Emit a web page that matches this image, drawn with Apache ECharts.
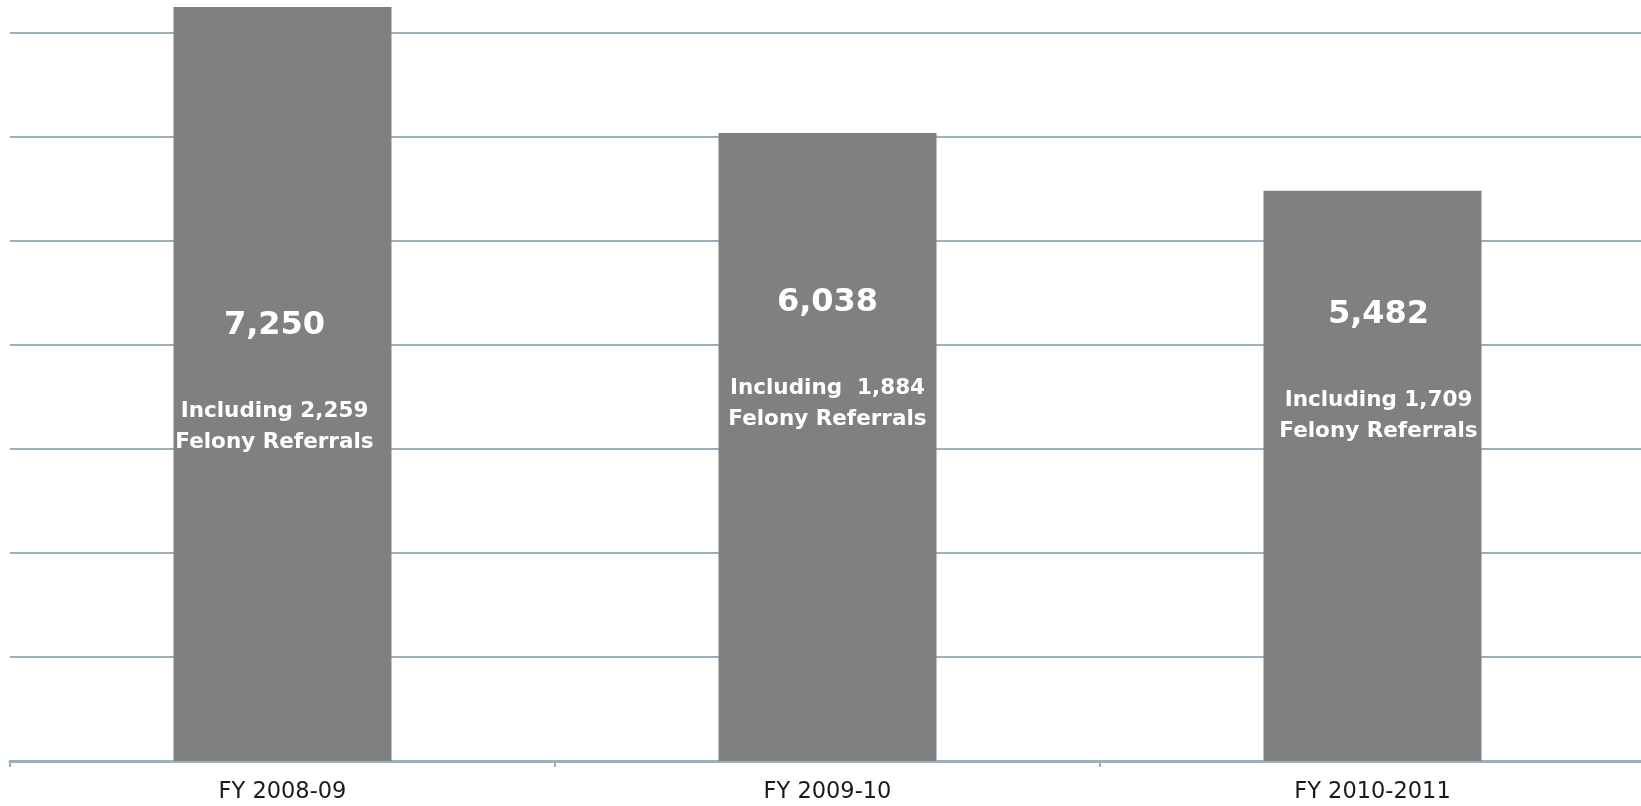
<!DOCTYPE html>
<html>
<head>
<meta charset="utf-8">
<script src="https://cdn.jsdelivr.net/npm/echarts@6/dist/echarts.min.js"></script>
<style>
  html, body { margin: 0; padding: 0; background: #ffffff; overflow: hidden; }
  #chart { width: 1645px; height: 806px; }
</style>
</head>
<body>
<div id="chart"></div>
<script>
// Juvenile referrals by fiscal year
const categories = ['FY 2008-09', 'FY 2009-10', 'FY 2010-2011'];
const totalReferrals = [7250, 6038, 5482];
const felonyNotes = ['Including 2,259', 'Including  1,884', 'Including 1,709'];
const noteTail = 'Felony Referrals';

// Placement of the text block inside each bar: [dx, distance below bar top]
const labelPlacement = [[-8, 294], [0, 145], [6, 99]];

const gridColor = '#9bb0ba';
const labelFont = 'DejaVu Sans';

const fmt = v => v.toLocaleString('en-US');

const chart = echarts.init(document.getElementById('chart'), null, { renderer: 'canvas' });

const barData = totalReferrals.map((v, i) => ({
  value: v,
  label: {
    show: true,
    position: 'insideTop',
    offset: [labelPlacement[i][0], labelPlacement[i][1]],
    formatter: '{v|' + fmt(v) + '}\n{s| }\n{t|' + felonyNotes[i] + '}\n{t|' + noteTail + '}'
  }
}));

chart.setOption({
  animation: false,
  backgroundColor: '#ffffff',
  grid: { left: 10, right: 0, top: 0, bottom: 45, containLabel: false },
  xAxis: {
    type: 'category',
    data: categories,
    boundaryGap: true,
    axisLine: { show: true, lineStyle: { color: gridColor, width: 3 } },
    axisTick: { show: true, alignWithLabel: false, length: 6, lineStyle: { color: gridColor, width: 2 } },
    axisLabel: { color: '#1a1a1a', fontFamily: labelFont, fontSize: 22.5, margin: 20 },
    splitLine: { show: false }
  },
  yAxis: {
    type: 'value',
    min: 0,
    max: 7317,
    interval: 1000,
    axisLine: { show: false },
    axisTick: { show: false },
    axisLabel: { show: false },
    splitLine: { show: true, showMaxLine: false, lineStyle: { color: gridColor, width: 2 } }
  },
  series: [{
    type: 'bar',
    data: barData,
    barWidth: 218,
    itemStyle: { color: '#808080' },
    label: {
      color: '#ffffff',
      fontFamily: labelFont,
      fontWeight: 'bold',
      align: 'center',
      rich: {
        v: { fontSize: 32, fontWeight: 'bold', color: '#ffffff', fontFamily: labelFont, lineHeight: 40 },
        s: { fontSize: 10, lineHeight: 50 },
        t: { fontSize: 21.5, fontWeight: 'bold', color: '#ffffff', fontFamily: labelFont, lineHeight: 31 }
      }
    }
  }]
});
</script>
</body>
</html>
